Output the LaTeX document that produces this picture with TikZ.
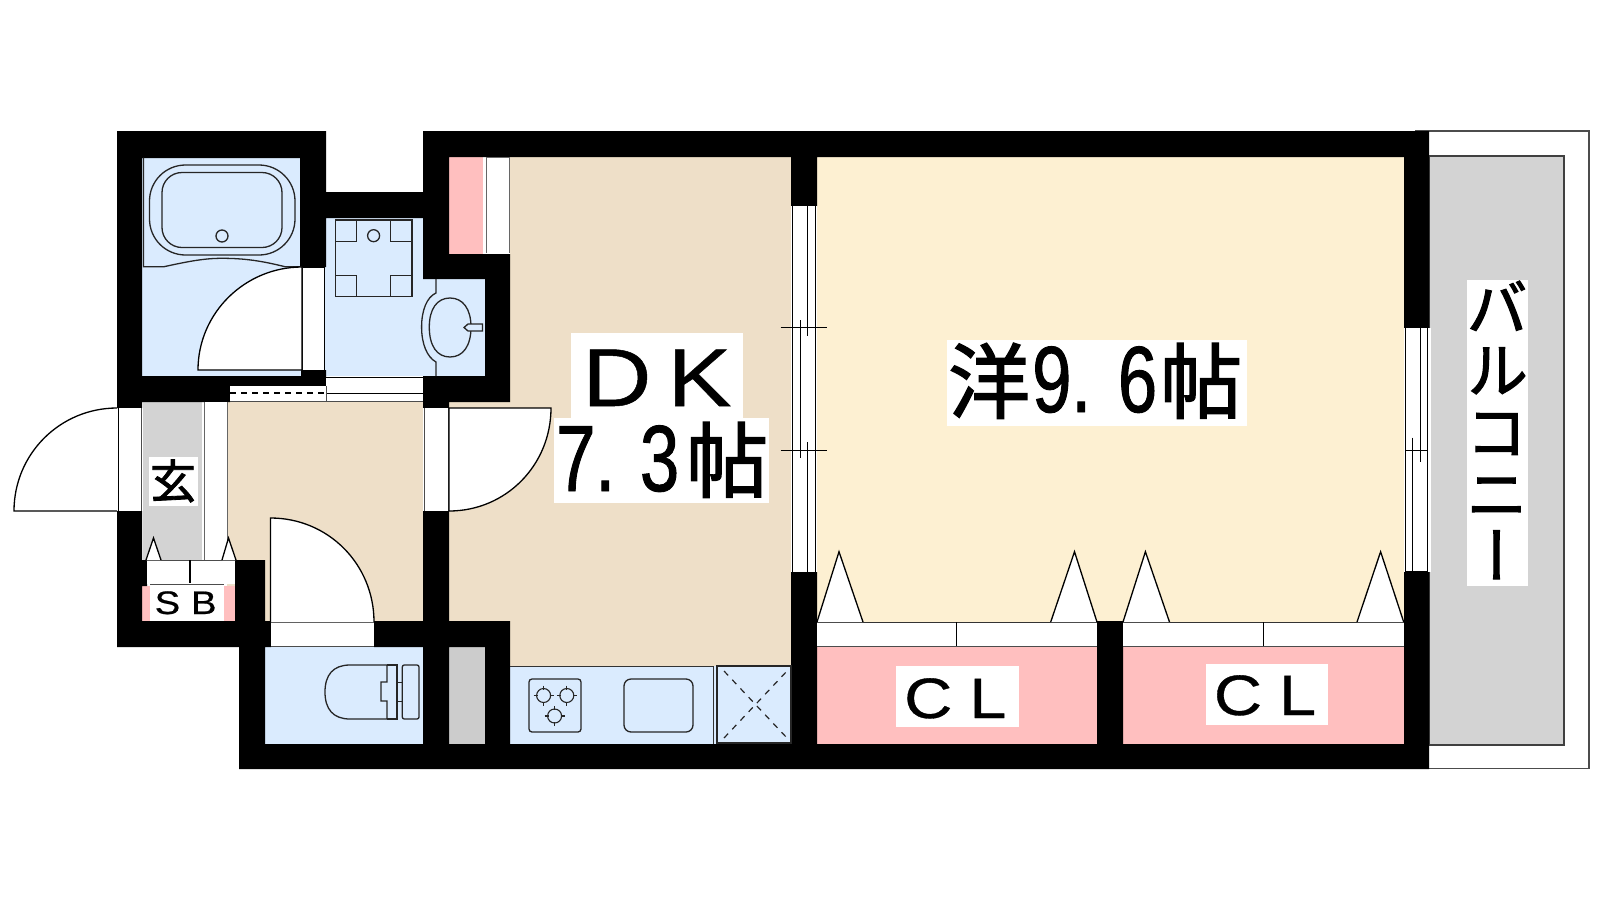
\documentclass[tikz,border=0pt]{standalone}
\usepackage{fontspec}
\setmainfont{Liberation Sans}
\newfontfamily\cjk[FakeBold=1.8]{Noto Sans CJK JP}
\newfontfamily\cjkv[RawFeature=+vert,FakeBold=1.8]{Noto Sans CJK JP}
\newfontfamily\dgt[FakeStretch=0.75,FakeBold=1]{Liberation Sans}
\newfontfamily\wide[FakeStretch=1.17,FakeBold=0.6]{Liberation Sans}
\definecolor{wallk}{HTML}{000000}
\definecolor{wet}{HTML}{DAEBFE}
\definecolor{dk}{HTML}{EEDFC8}
\definecolor{yo}{HTML}{FDF0D2}
\definecolor{cl}{HTML}{FFBFBF}
\definecolor{gr}{HTML}{D3D3D3}
\definecolor{gr2}{HTML}{CCCCCC}
\tikzset{
 ln/.style={draw=black,line width=1.3pt},
 thin ln/.style={draw=black,line width=1pt},
 fx/.style={draw=black!85,line width=1.3pt},
 txt/.style={inner sep=0pt,anchor=base west,text=black},
 whitebox/.style={fill=white},
 door/.style={fill=white,draw=black,line width=1.3pt,line join=miter},
 tri/.style={fill=white,draw=black,line width=1.3pt},
}
\begin{document}
\begin{tikzpicture}[x=1pt,y=-1pt]
\useasboundingbox (0,0) rectangle (1600,900);
\fill[white] (0,0) rectangle (1600,900);
% room floors
\fill[wet] (142,158) rectangle (300,376);
\fill[wet] (300,267) rectangle (326,376);
\fill[wet] (326,218) rectangle (423,376);
\fill[wet] (423,279) rectangle (485,376);
\fill[dk] (227,402) rectangle (423,622);
\fill[dk] (449,402) rectangle (510,622);
\fill[dk] (510,157) rectangle (791,666);
\fill[yo] (817,157) rectangle (1404,622);
\fill[gr] (143,402) rectangle (202,560);
\fill[wet] (265,647) rectangle (423,744);
\fill[gr2] (449,647) rectangle (485,744);
\fill[wet] (510,666) rectangle (791,744);
\fill[cl] (817,647) rectangle (1097,744);
\fill[cl] (1123,647) rectangle (1404,744);
\fill[cl] (449,157) rectangle (483,254);
\fill[cl] (142,586) rectangle (239,621);
% balcony
\draw[line width=1.2pt,draw=black!70,fill=white] (1416,131) rectangle (1589,768.7);
\draw[line width=1.5pt,draw=black!75,fill=gr] (1429,156) rectangle (1564,745);
% walls
\fill[black]
 (117,131) rectangle (326,158)
 (117,131) rectangle (142,408)
 (300,131) rectangle (326,267)
 (326,192) rectangle (423,218)
 (423,131) rectangle (1429,157)
 (423,131) rectangle (449,279)
 (449,254) rectangle (510,279)
 (485,254) rectangle (510,402)
 (117,376) rectangle (230,402)
 (230,376) rectangle (326,386)
 (423,376) rectangle (510,402)
 (423,376) rectangle (449,408)
 (301,370) rectangle (326,376)
 (117,511) rectangle (142,647)
 (142,560) rectangle (147,586)
 (235,560) rectangle (265,647)
 (117,621) rectangle (271,647)
 (239,621) rectangle (265,769)
 (374,621) rectangle (510,647)
 (423,511) rectangle (449,769)
 (485,621) rectangle (510,769)
 (239,744) rectangle (1429,769)
 (791,131) rectangle (817,206)
 (791,572) rectangle (817,769)
 (1097,621) rectangle (1123,769)
 (1404,131) rectangle (1429,328)
 (1404,572) rectangle (1429,769);
% white fittings
\fill[white] (486,157) rectangle (509,253);
\draw[thin ln,draw=black!60] (486,157) -- (486,253) (509,157) -- (509,253);
\draw[thin ln,draw=black!60] (486,157) -- (509,157);
% corridor partition
\fill[white] (230,386) rectangle (326,401.5);
\fill[white] (326,377) rectangle (423,401.5);
\draw[thin ln] (326,377) -- (423,377);
\draw[thin ln,draw=black!70] (230,401.5) -- (423,401.5);
\draw[thin ln] (326,393) -- (423,393);
\draw[line width=1.2pt,dashed,dash pattern=on 6pt off 5pt] (230,393) -- (326,393);
\draw[thin ln,draw=black!70] (326.5,386) -- (326.5,401.5);
% entrance storage strip
\fill[white] (204.5,402) rectangle (226.5,560);
\draw[thin ln,draw=black!60] (204,402) -- (204,560) (227,402) -- (227,560);
% bath fixtures
\draw[fx,rounded corners=36pt] (149.5,165) rectangle (295,255);
\draw[fx,rounded corners=20pt] (162,172.5) rectangle (282,247.5);
\draw[fx] (222,236) circle[radius=6];
\draw[fx] (143.5,157.5) -- (143.5,266.7) -- (164,266.7) .. controls (190,261) and (205,258.3) .. (222,258.3) .. controls (245,258.3) and (262,261) .. (285,266.7) -- (302,266.7);
% bath door
\fill[white] (302,267) rectangle (324.5,370);
\draw[ln] (302,267) -- (302,370) (324.5,267) -- (324.5,370) (302,267) -- (324.5,267);
\draw[door] (302,267) .. controls (245,267) and (198,313) .. (198,370) -- (302,370) -- cycle;
% washer pan
\draw[fx] (335.5,220) rectangle (412,296.7);
\draw[fx] (335.5,241.7) -| (356.7,220) (412,241.7) -| (390.5,220) (335.5,275.3) -| (356.7,296.7) (412,275.3) -| (390.5,296.7);
\draw[fx] (373.6,235.7) circle[radius=6];
% wash basin
\draw[fx] (436,279) -- (436,293) .. controls (427,297) and (421.6,310) .. (421.6,327) .. controls (421.6,344) and (427,357) .. (436,362) -- (436,376);
\draw[fx] (450,298) .. controls (463,298) and (471,309) .. (471,327) .. controls (471,346) and (463,357) .. (450,357) .. controls (437,357) and (429.3,346) .. (429.3,327) .. controls (429.3,309) and (437,298) .. (450,298) -- cycle;
\draw[fx,fill=wet] (468,324) -- (482.4,324) -- (482.4,331) -- (468,331) -- (464,327.5) -- cycle;
% doors
\fill[white] (118,408) rectangle (142,511);
\draw[ln] (118.5,408) -- (118.5,511);
\draw[thin ln,draw=black!70] (141,408) -- (141,511);
\draw[door] (117,408) .. controls (60,408) and (14,454) .. (14,511) -- (117,511);
\fill[white] (423,408) rectangle (449,511);
\draw[thin ln,draw=black!70] (424,408) -- (424,511) (448,408) -- (448,511);
\draw[door] (449,408) -- (551,408) .. controls (551,465) and (506,511) .. (449,511) -- cycle;
\fill[white] (271,622) rectangle (374,646);
\draw[thin ln,draw=black!70] (271,622.5) -- (374,622.5) (271,646) -- (374,646);
\draw[door] (270.5,622) -- (270.5,518) .. controls (328,518) and (374,564) .. (374,622);
% entrance shelf
\fill[white] (147,560) rectangle (235,584);
\draw[thin ln,draw=black!70] (147,560.5) -- (235,560.5);
\draw[ln] (190,560) -- (190,583);
\draw[tri] (146,560) -- (153.5,538) -- (161,560);
\draw[tri] (222,560) -- (228.5,538) -- (236,560);
% toilet
\draw[fx,fill=wet,rounded corners=2pt] (402.3,665) rectangle (419,719);
\draw[fx] (397,682.7) rectangle (402.3,701.7);
\draw[fx] (387,665) -- (397,665) -- (397,719) -- (387,719);
\draw[fx] (387,665) -- (350,665) .. controls (333,665) and (325,675) .. (325,692) .. controls (325,709) and (333,719) .. (350,719) -- (387,719) -- (387,701) -- (381,701) -- (381,682) -- (387,682) -- cycle;
% kitchen
\draw[thin ln,draw=black!80] (510,666) -- (713,666) -- (713,744);
\draw[fx,line width=1.2pt] (717,666) rectangle (791,743);
\draw[line width=1.2pt,dash pattern=on 6pt off 6pt,draw=black!85] (724,671) -- (787,738) (724,738) -- (787,671);
\draw[fx,rounded corners=3pt] (529,679) rectangle (581,732);
\foreach \cx/\cy in {543.6/695.5,566.8/695.5,554.6/716}{
 \draw[fx,line width=1.1pt] (\cx,\cy) circle[radius=7];
 \draw[fx,line width=1.1pt] (\cx-10,\cy) -- (\cx-6,\cy) (\cx+10,\cy) -- (\cx+6,\cy) (\cx,\cy-10) -- (\cx,\cy-6) (\cx,\cy+10) -- (\cx,\cy+6);
}
\draw[fx,rounded corners=7pt] (624,679) rectangle (693,732);
% room windows
\fill[white] (791,206) rectangle (817,572);
\draw[thin ln] (792.3,206) -- (792.3,572) (815.7,206) -- (815.7,572);
\draw[thin ln] (807.7,206) -- (807.7,336) (807.7,442) -- (807.7,572);
\draw[thin ln] (800,320) -- (800,458);
\draw[thin ln] (780.7,327) -- (827,327) (780.7,450) -- (827,450);
\fill[white] (1404,328) rectangle (1431,572);
\draw[thin ln] (1405,328) -- (1405,572) (1427.7,328) -- (1427.7,572);
\draw[thin ln] (1412.3,437.7) -- (1412.3,572) (1420.3,328) -- (1420.3,462);
\draw[thin ln] (1405,450) -- (1427.7,450);
\draw[thin ln] (1405,571.7) -- (1427.7,571.7);
% closets
\fill[white] (817,622) rectangle (1097,646);
\fill[white] (1123,622) rectangle (1404,646);
\draw[thin ln,draw=black!80] (817,622.3) -- (1097,622.3) (1123,622.3) -- (1404,622.3);
\draw[thin ln,draw=black!70] (817,646) -- (1097,646) (1123,646) -- (1404,646);
\draw[thin ln] (956.4,622) -- (956.4,646) (1263,622) -- (1263,646);
\draw[tri] (817,622) -- (839,551.7) -- (863,622);
\draw[tri] (1050.7,622) -- (1074.5,551.7) -- (1097,622);
\draw[tri] (1123,622) -- (1145.4,551.7) -- (1169.5,622);
\draw[tri] (1357,622) -- (1380.6,551.7) -- (1403.7,622);
% label backgrounds
\fill[whitebox] (571,333) rectangle (743,418);
\fill[whitebox] (554,418) rectangle (769,503);
\fill[whitebox] (947,340) rectangle (1247,426);
\fill[whitebox] (149,457) rectangle (198,506);
\fill[whitebox] (150,585) rectangle (224,621);
\draw[thin ln,draw=black!70] (150,584.3) -- (224,584.3);
\fill[whitebox] (895.7,666) rectangle (1018.6,726.7);
\fill[whitebox] (1206,664) rectangle (1328,725);
\fill[whitebox] (1466.7,280) rectangle (1528,585.7);
% labels
\node[txt,font=\fontsize{82}{82}\selectfont\wide] (dklabel) at (582,406) {D\kern16pt K};
\node[txt,font=\fontsize{94}{94}\selectfont] (dksize) at (556,491) {\dgt 7.\kern25pt 3\kern7pt{\fontsize{82}{82}\selectfont\cjk 帖}};
\node[txt,font=\fontsize{94}{94}\selectfont] (yolabel) at (948,412) {{\fontsize{82}{82}\selectfont\cjk 洋}\dgt\kern2pt 9.\kern27pt 6\kern3pt{\fontsize{82}{82}\selectfont\cjk 帖}};
\node[inner sep=0pt,font=\fontsize{46}{46}\selectfont\cjk] (genkan) at (173,481) {玄};
\node[txt,font=\fontsize{32.6}{32.6}\selectfont\wide] (sb) at (154.5,614) {S\kern11pt B};
\node[txt,font=\fontsize{57}{57}\selectfont\wide] (cl1) at (904,718) {C\kern17pt L};
\node[txt,font=\fontsize{57}{57}\selectfont\wide] (cl2) at (1213.7,715) {C\kern17pt L};
\node[inner sep=0pt,align=center,font=\fontsize{62}{62}\selectfont\cjkv] (balcony) at (1497,430) {バ\\ル\\コ\\ニ\\ー};
\end{tikzpicture}
\end{document}
